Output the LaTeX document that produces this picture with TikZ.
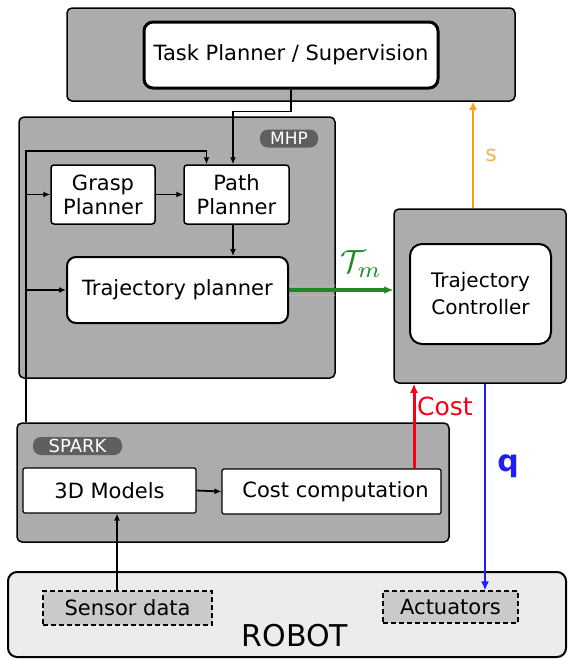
\documentclass[tikz,border=0pt]{standalone}
\usepackage{graphicx}
\usepackage{fontspec}
\setmainfont{DejaVu Sans}
\usetikzlibrary{arrows.meta}
\definecolor{boxgray}{RGB}{172,172,172}
\definecolor{pillgray}{RGB}{95,95,95}
\definecolor{robotgray}{RGB}{236,236,236}
\definecolor{dashgray}{RGB}{202,202,202}
\definecolor{arrgreen}{RGB}{30,135,40}
\definecolor{arrorange}{RGB}{245,165,20}
\definecolor{sorange}{RGB}{240,180,80}
\definecolor{arrblue}{RGB}{30,30,250}
\definecolor{arrred}{RGB}{245,0,20}
\definecolor{pinkline}{RGB}{230,150,230}
\begin{document}
\begin{tikzpicture}[x=1pt,y=-1pt,
  graybox/.style={draw=black, line width=1.5pt, fill=boxgray, rounded corners=5pt, inner sep=0pt},
  whitebox/.style={draw=black, fill=white, line width=1.5pt, rounded corners=3pt, inner sep=0pt, align=center, font=\fontsize{21}{24}\selectfont},
  bigbox/.style={whitebox, line width=2.5pt, rounded corners=9pt},
  pill/.style={fill=pillgray, text=white, rounded corners=8pt, inner sep=0pt, font=\fontsize{17}{17}\selectfont},
  dashbox/.style={draw=black, dashed, dash pattern=on 5pt off 3pt, line width=1.2pt, fill=dashgray, inner sep=0pt, font=\fontsize{21}{24}\selectfont},
  arr/.style={draw=black, line width=1.8pt, -{Latex[length=7pt,width=6pt]}},
  colarr/.style={line width=3pt, -{Latex[length=9pt,width=8pt]}}
]
\useasboundingbox (0,0) rectangle (568,659);

% containers
\node[graybox, minimum width=448, minimum height=93] (top) at (291,54.5) {};
\node[bigbox, line width=3pt, minimum width=294, minimum height=66] (task) at (291,55) {Task Planner / Supervision};

\node[graybox, minimum width=316, minimum height=261] (mhp) at (177,247.5) {};
\node[pill, minimum width=58, minimum height=18] (mhplabel) at (289,138.5) {MHP};
\node[whitebox, minimum width=104, minimum height=59] (grasp) at (103,194.5) {Grasp\\Planner};
\node[whitebox, minimum width=105, minimum height=59] (path) at (236.5,194.5) {Path\\Planner};
\node[bigbox, line width=2pt, minimum width=221, minimum height=66] (traj) at (177.5,290) {Trajectory planner};

\node[graybox, minimum width=172, minimum height=174] (tcout) at (480,296) {};
\node[bigbox, line width=2pt, rounded corners=12pt, minimum width=141, minimum height=100, font=\fontsize{20}{27}\selectfont] (tc) at (480.5,294) {Trajectory\\Controller};

\node[graybox, minimum width=432, minimum height=119] (spark) at (233,482.5) {};
\node[pill, minimum width=89, minimum height=18, font=\fontsize{18}{18}\selectfont] (sparklabel) at (77.5,446) {SPARK};
\node[whitebox, line width=1.2pt, rounded corners=2pt, minimum width=173, minimum height=45] (models) at (109.5,490.5) {3D Models};
\node[whitebox, line width=1.2pt, rounded corners=2pt, minimum width=219, minimum height=45] (cost) at (331.5,491.5) {\hspace*{8pt}Cost computation};

\node[draw=black, line width=2pt, fill=robotgray, rounded corners=9pt, minimum width=558, minimum height=85] (robot) at (287,614.5) {};
\node[font=\fontsize{30}{30}\selectfont, inner sep=0pt] (robotlabel) at (295,636) {ROBOT};
\node[dashbox, minimum width=169, minimum height=34] (sensor) at (127.5,608) {Sensor data};
\node[dashbox, minimum width=135, minimum height=32] (act) at (450.5,607) {Actuators};

% helper coordinates
\coordinate (busx) at (26,0);
\coordinate (bustop) at (26,151);
\coordinate (sensx) at (117,0);
\coordinate (redx) at (414,0);
\coordinate (bluex) at (485,0);
\coordinate (orangex) at (473,0);
\coordinate (mhpright) at (335,0);

% connectors
\draw[arr] (task.south) -- ++(0,22) -| ([xshift=-3.5pt]path.north);
\draw[arr] (spark.north -| busx) -- (bustop) -| ([xshift=-30pt]path.north);
\draw[arr] (busx |- grasp.west) -- (grasp.west);
\draw[arr] (busx |- traj.west) -- (traj.west);
\draw[arr] (grasp.east) -- (path.west);
\draw[arr] ([xshift=-3.5pt]path.south) -- ([xshift=-3.5pt]path.south |- traj.north);

\draw[pinkline, line width=1pt] ([yshift=5pt]traj.east) -- ([yshift=5pt]traj.east -| mhpright);
\draw[pinkline, line width=1pt] ([yshift=-5pt]traj.east) -- ([yshift=-5pt]traj.east -| mhpright);
\draw[colarr, arrgreen, line width=3.5pt] (traj.east) -- (traj.east -| tcout.west);
\node[text=arrgreen, inner sep=0pt] (tm) at (361,264) {\scalebox{3.2}{$\mathcal{T}_m$}};

\draw[colarr, arrred] (cost.north -| redx) -- (tcout.south -| redx);
\node[text=arrred, anchor=west, font=\fontsize{25}{25}\selectfont, inner sep=0pt] (costlabel) at (417,406) {Cost};

\draw[arrblue, line width=2.5pt, -{Latex[length=9pt,width=8pt]}] (tcout.south -| bluex) -- (act.north -| bluex);
\node[text=arrblue, font=\bfseries\fontsize{30}{30}\selectfont, inner sep=0pt] (qlabel) at (508,466) {q};

\draw[arrorange, line width=2.5pt, -{Latex[length=8pt,width=8pt]}] (tcout.north -| orangex) -- (top.south -| orangex);
\node[text=sorange, font=\fontsize{22}{22}\selectfont, inner sep=0pt] (slabel) at (491,155) {s};

\draw[arr] (sensor.north -| sensx) -- (models.south -| sensx);
\draw[arr] (models.east) -- (cost.west);
\end{tikzpicture}
\end{document}
